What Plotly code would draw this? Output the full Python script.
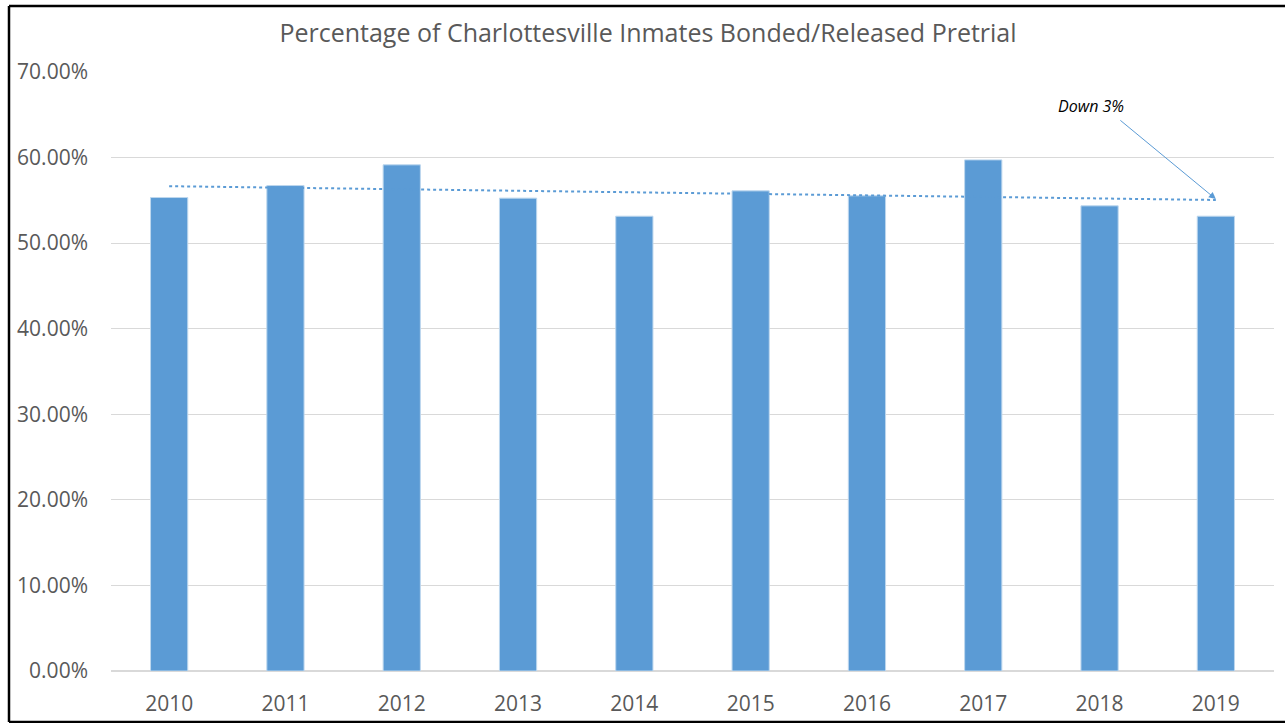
import numpy as np
import plotly.graph_objects as go

years = [2010, 2011, 2012, 2013, 2014, 2015, 2016, 2017, 2018, 2019]
pct_released = [0.5533, 0.5673, 0.5915, 0.5526, 0.5315, 0.5611, 0.5553, 0.5973, 0.5436, 0.5315]
y_ticks = [0, 0.1, 0.2, 0.3, 0.4, 0.5, 0.6, 0.7]
title_text = "Percentage of Charlottesville Inmates Bonded/Released Pretrial"
note_text = "Down 3%"

# Linear trendline (least squares), like Excel's
coef = np.polyfit(years, pct_released, 1)
trend = np.polyval(coef, years)

BLUE = "#5B9BD5"
GRAY = "#595959"
GRID = "#D9D9D9"
FONT = "Open Sans"

W, H = 1285, 723
L, R, T, B = 111, 11, 72, 52
pw, ph = W - L - R, H - T - B

fig = go.Figure()
fig.add_trace(go.Bar(
    x=years, y=pct_released, width=0.32,
    marker=dict(color=BLUE, line=dict(color="#BDD7EE", width=1)),
    showlegend=False, hoverinfo="x+y",
))
fig.add_trace(go.Scatter(
    x=years, y=trend, mode="lines",
    line=dict(color=BLUE, width=2, dash="dot"),
    showlegend=False, hoverinfo="skip",
))

fig.add_annotation(
    x=years[-1], y=trend[-1] + 0.001, xref="x", yref="y",
    text="", showarrow=True, ax=-97, ay=-80,
    arrowhead=2, arrowsize=1.4, arrowwidth=1, arrowcolor=BLUE,
)
fig.add_annotation(
    x=(1091 - L) / pw, y=(H - B - 106) / ph, xref="paper", yref="paper",
    text="<i>" + note_text + "</i>", showarrow=False,
    font=dict(family=FONT, size=16, color="#000000"),
    xanchor="center", yanchor="middle",
)

# Outer frame around the chart (left, top, bottom edges)
fx0, fx1 = (9 - L) / pw, (W + 10 - L) / pw
fy0, fy1 = (H - B - 722) / ph, (H - B - 6) / ph
for (a, b, c, d) in [(fx0, fy0, fx0, fy1), (fx0, fy1, fx1, fy1), (fx0, fy0, fx1, fy0)]:
    fig.add_shape(
        type="line", xref="paper", yref="paper", x0=a, y0=b, x1=c, y1=d,
        line=dict(color="#000000", width=2.5), layer="above",
    )

fig.update_layout(
    width=W, height=H,
    margin=dict(l=L, r=R, t=T, b=B, autoexpand=False),
    paper_bgcolor="white", plot_bgcolor="white",
    title=dict(
        text=title_text, x=(648) / W, xanchor="center",
        y=1 - 33 / H, yanchor="middle",
        font=dict(family=FONT, size=25, color=GRAY),
    ),
    font=dict(family=FONT, color=GRAY),
    xaxis=dict(
        range=[2009.5, 2019.5], tickvals=years, ticktext=[str(y) for y in years],
        showgrid=False, zeroline=False, showline=False, automargin=False,
        tickfont=dict(family=FONT, size=21, color=GRAY),
        ticklabelstandoff=18,
    ),
    yaxis=dict(
        range=[0, 0.7], tickvals=y_ticks, tickformat=".2%",
        showgrid=True, gridcolor=GRID, gridwidth=1, automargin=False,
        zeroline=True, zerolinecolor=GRID, zerolinewidth=1.5, showline=False,
        tickfont=dict(family=FONT, size=21, color=GRAY),
        ticklabelstandoff=22,
    ),
    bargap=0.68,
)

fig.write_html(
    "out.html",
    config={"displayModeBar": False},
    post_script="document.body.style.margin='0px';document.body.style.padding='0px';",
)
